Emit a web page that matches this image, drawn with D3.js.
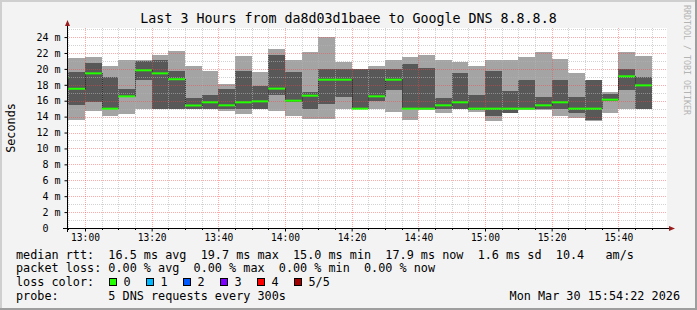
<!DOCTYPE html>
<html><head><meta charset="utf-8">
<script src="https://cdn.jsdelivr.net/npm/d3@7"></script>
<style>
html,body{margin:0;padding:0;background:#f3f3f3;}
svg{display:block;}
text{font-family:"DejaVu Sans Mono",monospace;}
</style></head><body>
<svg id="chart" width="697" height="310"></svg>
<script>
// ---------------- data ----------------
const titleText = "Last 3 Hours from da8d03d1baee to Google DNS 8.8.8.8";
const viewStart = "12:54:36";
const viewEnd = "15:54:36";
const stepMinutes = 5;
const barTimes = ["12:50","12:55","13:00","13:05","13:10","13:15","13:20","13:25","13:30","13:35","13:40","13:45",
  "13:50","13:55","14:00","14:05","14:10","14:15","14:20","14:25","14:30","14:35","14:40","14:45",
  "14:50","14:55","15:00","15:05","15:10","15:15","15:20","15:25","15:30","15:35","15:40","15:45"];
// five sorted pings per step (ms)
const maxRtt    = [21.1,21.37,21.54,20.4,21.08,21.08,21.7,22.29,20.4,19.7,18.1,21.66,19.57,22.54,21.07,22.12,23.96,20.82,20.03,20.4,21.07,21.45,21.78,21.07,20.83,20.4,21.08,21.08,21.46,22.08,21.29,19.44,18.65,17.1,22.08,21.58];
const upperRtt  = [19.8,19.6,20.78,18.94,17.5,21.0,21.08,19.7,16.4,16.76,17.5,19.7,17.8,21.8,19.61,17.1,20.03,20.03,20.03,20.03,20.03,20.65,20.15,16.4,19.44,16.76,19.7,17.18,18.65,16.47,18.65,16.47,18.65,16.8,20.03,18.94];
const medianRtt = [18.9,17.5,19.44,15.0,16.55,19.82,19.44,18.7,15.4,15.8,15.42,15.8,15.92,17.52,16.0,16.63,18.64,18.64,15.0,16.55,18.64,15.0,15.0,15.42,15.8,15.0,15.0,15.0,15.0,15.42,15.8,15.0,15.0,16.13,19.07,17.93];
const lowerRtt  = [16.5,15.42,15.8,14.95,16.45,18.65,15.0,15.0,15.0,15.0,15.0,15.0,15.0,16.76,15.9,15.0,15.63,16.46,15.0,15.92,17.3,15.0,15.0,15.0,15.0,14.8,14.04,14.46,15.0,15.0,15.0,14.46,13.62,16.0,17.3,15.0];
const minRtt    = [15.3,13.62,14.75,14.04,14.37,15.0,15.0,15.0,15.0,15.0,14.75,14.37,15.0,14.75,14.03,13.74,13.7,15.0,15.0,15.0,14.54,13.61,14.79,14.45,15.0,14.58,13.4,14.46,14.8,14.8,14.04,13.83,13.4,14.46,15.0,15.0];
const yMax = 25.14;
const yTicks = [0,2,4,6,8,10,12,14,16,18,20,22,24];
const xTickLabels = ["13:00","13:20","13:40","14:00","14:20","14:40","15:00","15:20","15:40"];
const legendLines = [
  "median rtt:  16.5 ms avg  19.7 ms max  15.0 ms min  17.9 ms now  1.6 ms sd  10.4   am/s",
  "packet loss: 0.00 % avg  0.00 % max  0.00 % min  0.00 % now"
];
const lossLabel = "loss color:";
const lossNames = ["0","1","2","3","4","5/5"];
const lossColors = ["#22ff00","#00b8ff","#0059ff","#7e00ff","#ff0000","#a10000"];
const probeLine = "probe:       5 DNS requests every 300s";
const dateText = "Mon Mar 30 15:54:22 2026";
const yAxisTitle = "Seconds";
const credit = "RRDTOOL / TOBI OETIKER";

// ---------------- drawing ----------------
const toMin = s => { const p = s.split(":").map(Number); return p[0]*60 + p[1] + (p[2]||0)/60; };
const svg = d3.select("#chart");
const W = 697, H = 310;
const L = 67, R = 667, T = 28, B = 228;

svg.append("rect").attr("x",0).attr("y",0).attr("width",W).attr("height",H).attr("fill","#f3f3f3");
// 3D border
svg.append("rect").attr("x",0).attr("y",0).attr("width",W).attr("height",2).attr("fill","#cfcfcf");
svg.append("rect").attr("x",0).attr("y",0).attr("width",2).attr("height",H).attr("fill","#cfcfcf");
svg.append("rect").attr("x",0).attr("y",H-2).attr("width",W).attr("height",2).attr("fill","#9e9e9e");
svg.append("rect").attr("x",W-2).attr("y",0).attr("width",2).attr("height",H).attr("fill","#9e9e9e");

const x = d3.scaleLinear().domain([toMin(viewStart), toMin(viewEnd)]).range([L, R]);
const y = d3.scaleLinear().domain([0, yMax]).range([B, T]);

svg.append("rect").attr("x",L).attr("y",T).attr("width",R-L).attr("height",B-T).attr("fill","#ffffff");
svg.append("clipPath").attr("id","clip").append("rect").attr("x",L).attr("y",T).attr("width",R-L).attr("height",B-T);
const plot = svg.append("g").attr("clip-path","url(#clip)");

const bars = barTimes.map((t,i)=>({t:toMin(t), max:maxRtt[i], up:upperRtt[i], med:medianRtt[i], lo:lowerRtt[i], min:minRtt[i]}));

plot.selectAll("rect.light").data(bars).join("rect").attr("class","light")
  .attr("x",d=>x(d.t)).attr("width",d=>x(d.t+stepMinutes)-x(d.t))
  .attr("y",d=>y(d.max)).attr("height",d=>y(d.min)-y(d.max))
  .attr("fill","#a4a4a4").attr("shape-rendering","crispEdges");
plot.selectAll("rect.dark").data(bars).join("rect").attr("class","dark")
  .attr("x",d=>x(d.t)).attr("width",d=>x(d.t+stepMinutes)-x(d.t))
  .attr("y",d=>y(d.up)).attr("height",d=>Math.max(0,y(d.lo)-y(d.up)))
  .attr("fill","#585858").attr("shape-rendering","crispEdges");

// grid (drawn over data, semi transparent)
const grid = svg.append("g");
const yMinor = d3.range(1, Math.floor(yMax)+1).filter(v=>v%2===1);
const yMajor = yTicks.filter(v=>v>0);
const t0 = Math.ceil(toMin(viewStart)/5)*5;
const xAll = d3.range(t0, toMin(viewEnd), 5);
const xMajor = xTickLabels.map(toMin);
const xMinor = xAll.filter(v=>!xMajor.includes(v));
grid.selectAll("line.ymi").data(yMinor).join("line")
  .attr("x1",L).attr("x2",R).attr("y1",d=>Math.round(y(d))+0.5).attr("y2",d=>Math.round(y(d))+0.5)
  .attr("stroke","#b4b4b4").attr("stroke-opacity",0.6).attr("stroke-dasharray","1,1");
grid.selectAll("line.xmi").data(xMinor).join("line")
  .attr("y1",T).attr("y2",B).attr("x1",d=>Math.round(x(d))+0.5).attr("x2",d=>Math.round(x(d))+0.5)
  .attr("stroke","#b4b4b4").attr("stroke-opacity",0.6).attr("stroke-dasharray","1,1");
grid.selectAll("line.yma").data(yMajor).join("line")
  .attr("x1",L).attr("x2",R).attr("y1",d=>Math.round(y(d))+0.5).attr("y2",d=>Math.round(y(d))+0.5)
  .attr("stroke","#ff4040").attr("stroke-opacity",0.45).attr("stroke-dasharray","1,1");
grid.selectAll("line.xma").data(xMajor).join("line")
  .attr("y1",T).attr("y2",B).attr("x1",d=>Math.round(x(d))+0.5).attr("x2",d=>Math.round(x(d))+0.5)
  .attr("stroke","#ff4040").attr("stroke-opacity",0.45).attr("stroke-dasharray","1,1");

// median connectors + median lines
const plot2 = svg.append("g").attr("clip-path","url(#clip)");
const conn = bars.slice(1).map((d,i)=>({t:d.t, a:bars[i].med, b:d.med})).filter(d=>d.a!==d.b);
plot2.selectAll("line.conn").data(conn).join("line")
  .attr("x1",d=>Math.round(x(d.t))+0.5).attr("x2",d=>Math.round(x(d.t))+0.5)
  .attr("y1",d=>y(d.a)).attr("y2",d=>y(d.b))
  .attr("stroke","#202020").attr("stroke-width",1).attr("stroke-dasharray","1,1");
plot2.selectAll("line.med").data(bars).join("line")
  .attr("x1",d=>x(d.t)).attr("x2",d=>x(d.t+stepMinutes))
  .attr("y1",d=>y(d.med)).attr("y2",d=>y(d.med))
  .attr("stroke",lossColors[0]).attr("stroke-width",2);

// axes
const yAxis = d3.axisLeft(y).tickValues(yTicks).tickSize(3).tickPadding(4)
  .tickFormat(v => v===0 ? "0  " : v + " m");
const gy = svg.append("g").attr("transform",`translate(${L+0.5},0)`).call(yAxis);
gy.select(".domain").remove();
gy.selectAll("text").attr("font-size","10px").attr("font-family","DejaVu Sans Mono").attr("fill","#000").style("white-space","pre");
gy.selectAll("line").attr("stroke","#000");

const xAxis = d3.axisBottom(x).tickValues(xMajor).tickSize(3).tickPadding(3)
  .tickFormat((v,i)=>xTickLabels[i]);
const gx = svg.append("g").attr("transform",`translate(0,${B+0.5})`).call(xAxis);
gx.select(".domain").remove();
gx.selectAll("text").attr("font-size","9.6px").attr("font-family","DejaVu Sans Mono").attr("fill","#000");
gx.selectAll("line").attr("stroke","#000");
svg.append("g").selectAll("line").data(xMinor).join("line")
  .attr("x1",d=>Math.round(x(d))+0.5).attr("x2",d=>Math.round(x(d))+0.5)
  .attr("y1",B).attr("y2",B+2).attr("stroke","#000");

svg.append("line").attr("x1",L-4).attr("x2",R+3).attr("y1",B+0.5).attr("y2",B+0.5).attr("stroke","#000");
svg.append("line").attr("x1",L+0.5).attr("x2",L+0.5).attr("y1",B+4).attr("y2",T-2).attr("stroke","#000");
svg.append("path").attr("d",`M${R+2},${B-2} L${R+8},${B+0.5} L${R+2},${B+3} Z`).attr("fill","#9b1c1c");
svg.append("path").attr("d",`M${L-2},${T-2} L${L+0.5},${T-8} L${L+3},${T-2} Z`).attr("fill","#9b1c1c");

// texts
svg.append("text").attr("x",348.5).attr("y",23).attr("text-anchor","middle")
  .attr("font-size","13.3px").attr("fill","#000").text(titleText);
svg.append("text").attr("transform","translate(15,128) rotate(-90)").attr("text-anchor","middle")
  .attr("font-size","11.8px").attr("fill","#000").text(yAxisTitle);
svg.append("text").attr("transform","translate(684,5) rotate(90)").attr("text-anchor","start")
  .attr("font-size","8.3px").attr("fill","#b4b4b4").text(credit);

const lg = svg.append("g").attr("font-size","11.8px").attr("fill","#000");
lg.selectAll("text.ll").data(legendLines).join("text").attr("class","ll")
  .attr("x",16).attr("y",(d,i)=>258.5+i*13.5).style("white-space","pre").text(d=>d);
lg.append("text").attr("x",16).attr("y",285.5).text(lossLabel);
const boxX = d3.scaleLinear().domain([0,1]).range([108.5,145.5]);
lossNames.forEach((n,i)=>{
  lg.append("rect").attr("x",Math.round(boxX(i))+0.5).attr("y",278.5).attr("width",7).attr("height",7)
    .attr("fill",lossColors[i]).attr("stroke","#000").attr("stroke-width",1);
  lg.append("text").attr("x",boxX(i)+15).attr("y",285.5).text(n);
});
lg.append("text").attr("x",16).attr("y",299.5).style("white-space","pre").text(probeLine);
lg.append("text").attr("x",680).attr("y",299.5).attr("text-anchor","end").text(dateText);
</script>
</body></html>
